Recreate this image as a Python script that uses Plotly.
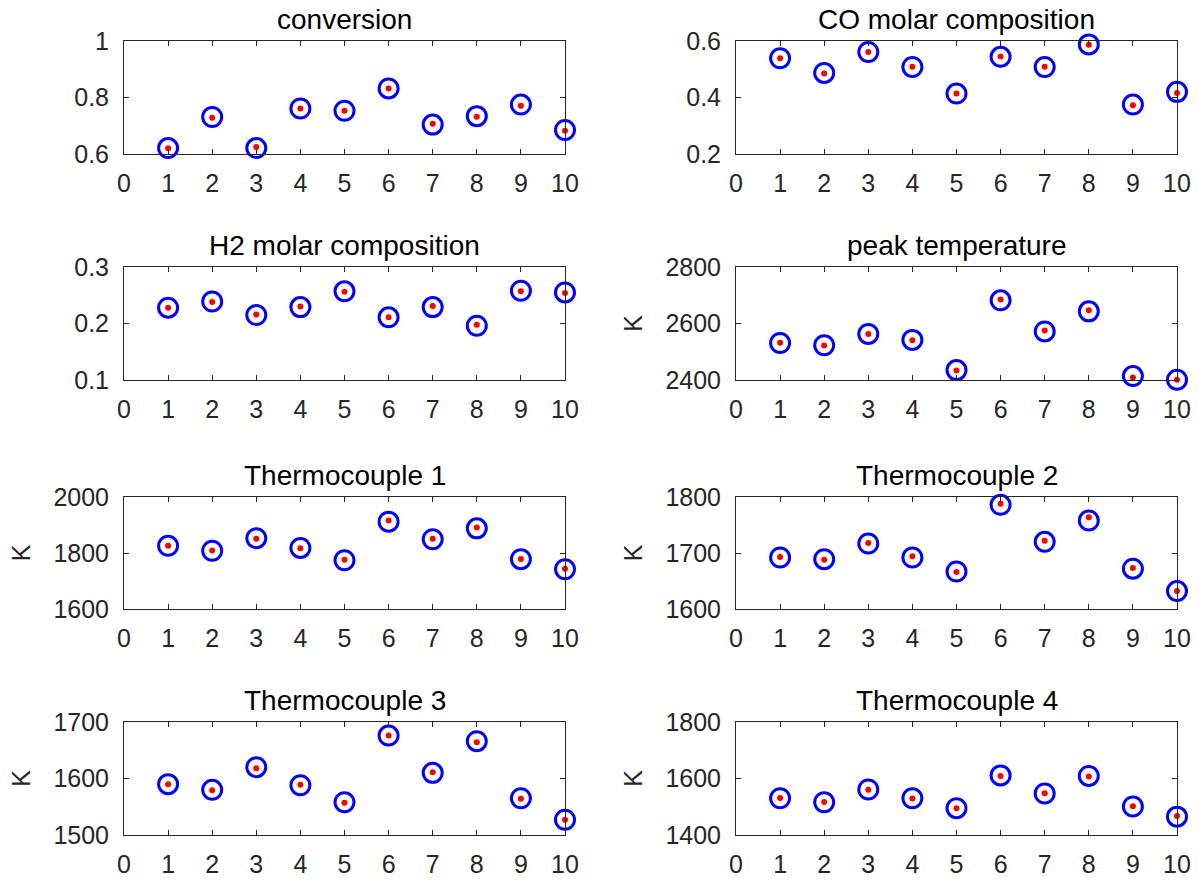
import plotly.graph_objects as go

runs = [1, 2, 3, 4, 5, 6, 7, 8, 9, 10]

titles = ["conversion", "CO molar composition", "H2 molar composition", "peak temperature",
          "Thermocouple 1", "Thermocouple 2", "Thermocouple 3", "Thermocouple 4"]
y_titles = ["", "", "", "K", "K", "K", "K", "K"]
y_ranges = [[0.6, 1], [0.2, 0.6], [0.1, 0.3], [2400, 2800],
            [1600, 2000], [1600, 1800], [1500, 1700], [1400, 1800]]
y_dtick = [0.2, 0.2, 0.1, 200, 200, 100, 100, 200]

# blue circles (model) and red dots (measured)
conv_blue = [0.621, 0.731, 0.621, 0.761, 0.753, 0.832, 0.704, 0.734, 0.775, 0.685]
conv_red = [0.620, 0.728, 0.625, 0.761, 0.753, 0.832, 0.707, 0.732, 0.771, 0.682]
co_blue = [0.539, 0.487, 0.561, 0.508, 0.414, 0.544, 0.508, 0.588, 0.375, 0.420]
co_red = [0.539, 0.485, 0.561, 0.509, 0.414, 0.545, 0.509, 0.587, 0.373, 0.416]
h2_blue = [0.228, 0.239, 0.215, 0.229, 0.257, 0.211, 0.229, 0.196, 0.258, 0.255]
h2_red = [0.228, 0.238, 0.216, 0.230, 0.256, 0.211, 0.231, 0.198, 0.257, 0.254]
peak_blue = [2531, 2523, 2563, 2542, 2435, 2682, 2572, 2643, 2414, 2401]
peak_red = [2532, 2522, 2563, 2541, 2434, 2685, 2575, 2647, 2409, 2401]
tc1_blue = [1826, 1808, 1853, 1818, 1774, 1912, 1849, 1888, 1778, 1742]
tc1_red = [1826, 1809, 1851, 1817, 1776, 1916, 1851, 1891, 1779, 1744]
tc2_blue = [1692, 1689, 1717, 1692, 1667, 1786, 1720, 1758, 1672, 1632]
tc2_red = [1693, 1688, 1718, 1694, 1666, 1788, 1722, 1764, 1673, 1632]
tc3_blue = [1590, 1580, 1620, 1588, 1558, 1676, 1610, 1666, 1565, 1527]
tc3_red = [1590, 1579, 1618, 1589, 1557, 1676, 1611, 1664, 1564, 1527]
tc4_blue = [1530, 1516, 1561, 1530, 1495, 1611, 1547, 1609, 1501, 1465]
tc4_red = [1531, 1517, 1560, 1529, 1495, 1609, 1548, 1607, 1502, 1467]

blue_sets = [conv_blue, co_blue, h2_blue, peak_blue, tc1_blue, tc2_blue, tc3_blue, tc4_blue]
red_sets = [conv_red, co_red, h2_red, peak_red, tc1_red, tc2_red, tc3_red, tc4_red]

W, H = 1199, 886
col_px = [(124, 565), (736, 1177)]
row_px = [(41, 154), (267, 380), (497, 609), (722, 835)]

fig = go.Figure()
axis_color = "#262626"
font_family = "Liberation Sans, Arial, sans-serif"

for i in range(8):
    r, c = divmod(i, 2)
    n = i + 1
    xa = "x" if n == 1 else f"x{n}"
    ya = "y" if n == 1 else f"y{n}"
    fig.add_trace(go.Scatter(x=runs, y=blue_sets[i], mode="markers", xaxis=xa, yaxis=ya,
                             cliponaxis=False, showlegend=False,
                             marker=dict(symbol="circle-open", size=19, color="#0000ff",
                                         line=dict(width=3, color="#0000ff"))))
    fig.add_trace(go.Scatter(x=runs, y=red_sets[i], mode="markers", xaxis=xa, yaxis=ya,
                             cliponaxis=False, showlegend=False,
                             marker=dict(symbol="circle", size=6, color="#ff0000",
                                         line=dict(width=0))))
    x0, x1 = col_px[c]
    y0, y1 = row_px[r]
    xdom = [x0 / W, x1 / W]
    ydom = [1 - y1 / H, 1 - y0 / H]
    common = dict(showline=True, linecolor=axis_color, linewidth=1, mirror="ticks",
                  ticks="inside", ticklen=5, tickcolor=axis_color, showgrid=False,
                  zeroline=False, automargin=False,
                  tickfont=dict(size=25, color=axis_color, family=font_family))
    fig.layout[f"xaxis{'' if n == 1 else n}"] = dict(
        domain=xdom, anchor=ya, range=[0, 10], tickmode="linear", tick0=0, dtick=1,
        ticklabelstandoff=7, **common)
    fig.layout[f"yaxis{'' if n == 1 else n}"] = dict(
        domain=ydom, anchor=xa, range=y_ranges[i], tickmode="linear", tick0=y_ranges[i][0],
        dtick=y_dtick[i], ticklabelstandoff=9,
        title=dict(text=y_titles[i], standoff=15,
                   font=dict(size=25, color=axis_color, family=font_family)),
        **common)
    fig.add_annotation(x=(x0 + x1) / 2 / W, y=ydom[1], xref="paper", yref="paper",
                       xanchor="center", yanchor="bottom", yshift=4, showarrow=False,
                       text=titles[i], font=dict(size=28, color="#000000", family=font_family))

fig.update_layout(width=W, height=H, margin=dict(l=0, r=0, t=0, b=0, autoexpand=False),
                  paper_bgcolor="white", plot_bgcolor="white", hovermode=False)
fig.write_html("out.html", config={"displayModeBar": False},
               post_script="document.body.style.margin='0';document.body.style.overflow='hidden';")
